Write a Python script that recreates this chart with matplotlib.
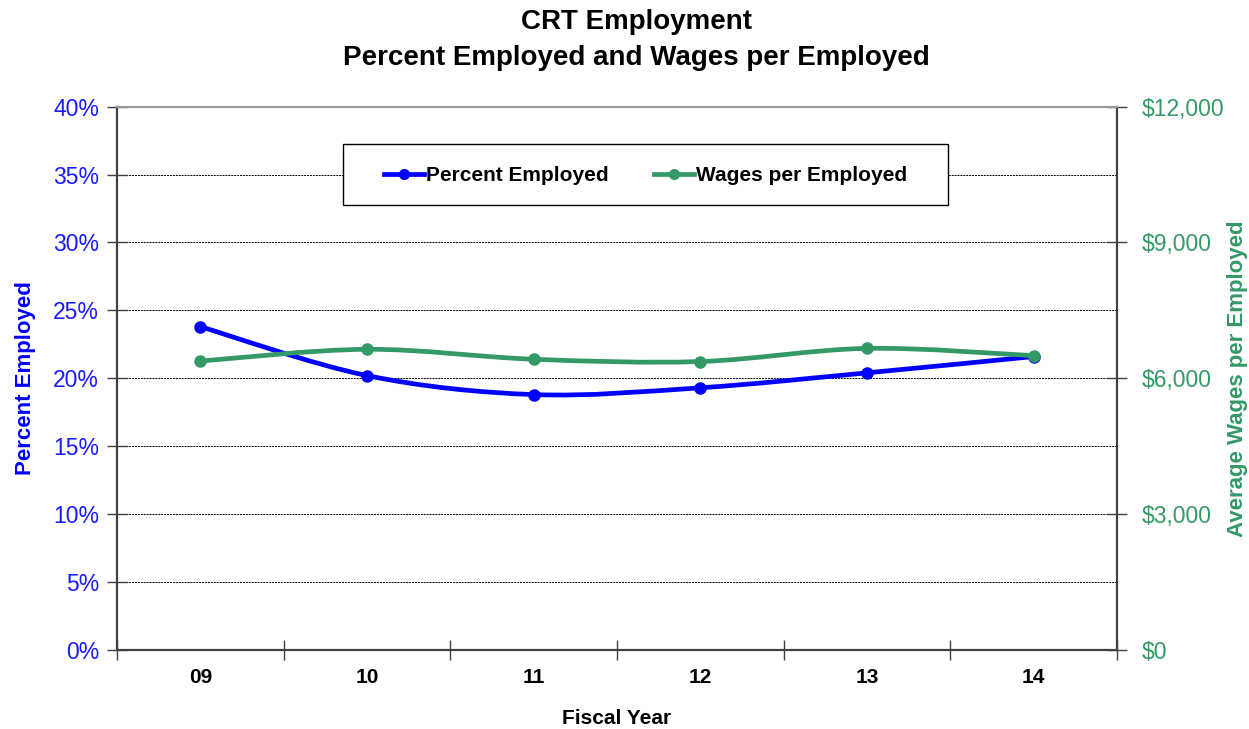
import matplotlib
matplotlib.use("Agg")
import matplotlib.pyplot as plt
from matplotlib.path import Path
from matplotlib.patches import PathPatch, Rectangle
from matplotlib.lines import Line2D
from matplotlib.ticker import FixedLocator, FuncFormatter

plt.rcParams["font.family"] = ["Liberation Sans", "DejaVu Sans"]

# --- data ------------------------------------------------------------------
years = ["09", "10", "11", "12", "13", "14"]
pct_employed = [23.8, 20.2, 18.8, 19.3, 20.4, 21.6]
wages_per_emp = [6380, 6640, 6420, 6370, 6660, 6500]

BLUE = "#0000FF"
GREEN = "#339966"
TXT_BLUE = "#1a1aff"
AXIS_GRAY = "#404040"


def smooth_path(xs, ys):
    """Excel-style smoothed line: cubic Bezier segments (Catmull-Rom control pts)."""
    n = len(xs)
    verts = [(xs[0], ys[0])]
    codes = [Path.MOVETO]
    for i in range(n - 1):
        i0, i3 = max(i - 1, 0), min(i + 2, n - 1)
        c1 = (xs[i] + (xs[i + 1] - xs[i0]) / 6, ys[i] + (ys[i + 1] - ys[i0]) / 6)
        c2 = (xs[i + 1] - (xs[i3] - xs[i]) / 6, ys[i + 1] - (ys[i3] - ys[i]) / 6)
        verts += [c1, c2, (xs[i + 1], ys[i + 1])]
        codes += [Path.CURVE4] * 3
    return Path(verts, codes)


fig = plt.figure(figsize=(12.49, 7.29), dpi=100)
ax = fig.add_axes([0.0937, 0.1084, 0.8006, 0.7454])
ax2 = ax.twinx()

x = list(range(len(years)))

# percent employed (left axis)
ax.add_patch(PathPatch(smooth_path(x, pct_employed), facecolor="none",
                       edgecolor=BLUE, lw=3.4, capstyle="round", zorder=3))
ax.plot(x, pct_employed, ls="none", marker="o", ms=8, color=BLUE, zorder=4)

# wages per employed (right axis)
ax2.add_patch(PathPatch(smooth_path(x, wages_per_emp), facecolor="none",
                        edgecolor=GREEN, lw=3.4, capstyle="round", zorder=3))
ax2.plot(x, wages_per_emp, ls="none", marker="o", ms=8, color=GREEN, zorder=4)

ax.set_xlim(-0.5, len(years) - 0.5)
ax.set_ylim(0, 40)
ax2.set_ylim(0, 12000)

# x axis: labels centered, ticks on category boundaries
ax.set_xticks(x)
ax.set_xticklabels(years, fontsize=15, fontweight="bold")
ax.tick_params(axis="x", which="major", length=0, pad=13)
ax.xaxis.set_minor_locator(FixedLocator([i - 0.5 for i in range(len(years) + 1)]))
ax.tick_params(axis="x", which="minor", direction="inout", length=14, width=1, color=AXIS_GRAY)

ax.set_yticks(range(0, 41, 5))
ax.yaxis.set_major_formatter(FuncFormatter(lambda v, _: f"{v:.0f}%"))
ax.tick_params(axis="y", direction="inout", length=14, width=1, color=AXIS_GRAY,
               labelsize=16.5, labelcolor=TXT_BLUE, pad=6)
ax.grid(axis="y", color="black", lw=0.7, ls=(0, (2, 1)))
ax.set_axisbelow(True)

ax2.set_yticks(range(0, 12001, 3000))
ax2.yaxis.set_major_formatter(FuncFormatter(lambda v, _: f"${v:,.0f}"))
ax2.tick_params(axis="y", direction="inout", length=14, width=1, color=AXIS_GRAY,
                labelsize=16.5, labelcolor=GREEN, pad=11)

for a in (ax, ax2):
    for side in ("left", "right", "bottom"):
        a.spines[side].set_color(AXIS_GRAY)
    a.spines["top"].set_color("#999999")
    for s in a.spines.values():
        s.set_linewidth(1.5)

ax.set_ylabel("Percent Employed", fontsize=16, fontweight="bold", color=BLUE, labelpad=12)
ax2.set_ylabel("Average Wages per Employed", fontsize=16, fontweight="bold",
               color=GREEN, rotation=90, labelpad=2)
ax.set_xlabel("Fiscal Year", fontsize=15, fontweight="bold")
ax.xaxis.set_label_coords(0.5, -0.108)
ax.xaxis.label.set_va("top")

fig.text(0.5095, 0.9698, "CRT Employment", ha="center", va="center",
         fontsize=20, fontweight="bold")
fig.text(0.5095, 0.9204, "Percent Employed and Wages per Employed", ha="center",
         va="center", fontsize=20, fontweight="bold")

# legend: framed box drawn separately so its padding matches the reference
box = Rectangle((0.2746, 0.7188), 0.4844, 0.0837, transform=fig.transFigure,
                facecolor="white", edgecolor="black", lw=1.0, zorder=5)
ax2.add_patch(box)
handles = [
    Line2D([], [], color=BLUE, lw=3.4, marker="o", ms=7),
    Line2D([], [], color=GREEN, lw=3.4, marker="o", ms=7),
]
leg = ax2.legend(handles, ["Percent Employed", "Wages per Employed"], ncol=2,
                 loc="center", bbox_to_anchor=(0.5285, 0.8725), frameon=False,
                 handlelength=1.9, handletextpad=0.1, columnspacing=2.2,
                 prop={"weight": "bold", "size": 15})
leg.set_zorder(6)

fig.savefig("out.png", dpi=100)
